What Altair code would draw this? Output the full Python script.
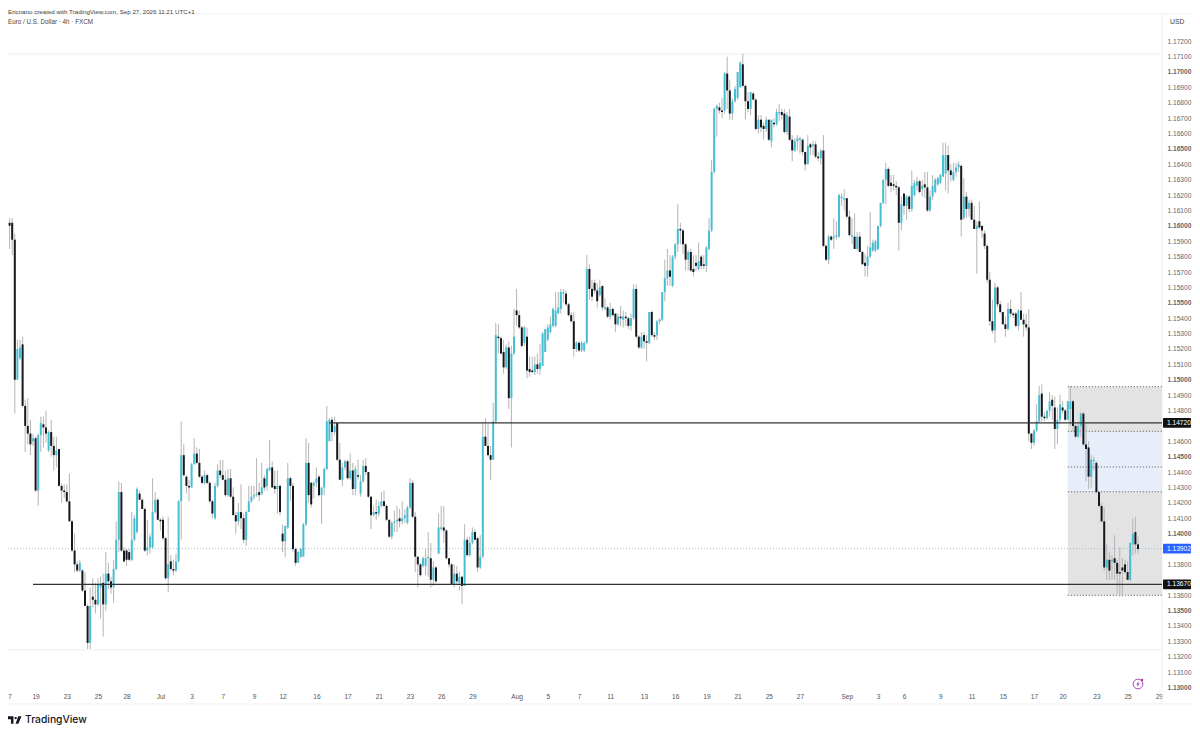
import altair as alt
import pandas as pd

# EUR/USD 4h candles, in pips above 1.0000
opens = [
    1613,1602,1602,1591,1500,1514,1523,1483,1470,1465,
    1460,1462,1428,1464,1471,1469,1454,1466,1457,1451,
    1455,1431,1428,1427,1421,1408,1389,1380,1376,1376,
    1363,1353,1329,1359,1357,1354,1365,1368,1354,1374,
    1369,1365,1377,1396,1427,1389,1389,1388,1383,1396,
    1401,1426,1422,1416,1389,1391,1391,1414,1422,1409,
    1409,1397,1371,1382,1377,1376,1382,1421,1451,1437,
    1431,1430,1445,1452,1446,1437,1433,1438,1433,1421,
    1410,1431,1441,1438,1435,1425,1436,1424,1412,1408,
    1414,1410,1396,1414,1421,1424,1425,1427,1426,1436,
    1431,1441,1443,1431,1429,1431,1400,1395,1404,1436,
    1431,1390,1381,1385,1385,1406,1446,1433,1431,1433,
    1437,1425,1430,1442,1460,1474,1466,1472,1448,1435,
    1443,1447,1436,1441,1429,1438,1426,1434,1444,1440,
    1424,1412,1414,1413,1418,1421,1418,1409,1398,1407,
    1408,1410,1408,1410,1407,1417,1433,1411,1385,1380,
    1379,1379,1384,1384,1370,1378,1387,1403,1404,1402,
    1384,1380,1367,1374,1368,1372,1366,1396,1386,1394,
    1401,1397,1378,1385,1463,1457,1451,1448,1473,1528,
    1527,1518,1508,1521,1488,1517,1545,1542,1534,1524,
    1528,1507,1506,1505,1510,1507,1509,1518,1526,1531,
    1535,1535,1543,1546,1556,1556,1549,1542,1538,1520,
    1524,1519,1519,1524,1572,1559,1563,1558,1555,1561,
    1546,1547,1541,1546,1543,1536,1541,1539,1541,1540,
    1535,1540,1559,1528,1521,1529,1525,1524,1544,1529,
    1529,1538,1539,1557,1566,1571,1561,1580,1588,1598,
    1597,1588,1578,1583,1572,1576,1572,1580,1575,1574,
    1585,1597,1635,1676,1677,1675,1675,1699,1688,1673,
    1681,1683,1690,1705,1691,1681,1676,1686,1682,1663,
    1669,1665,1663,1669,1655,1667,1666,1673,1674,1673,
    1661,1671,1656,1649,1655,1656,1656,1648,1640,1653,
    1652,1653,1645,1644,1649,1587,1578,1593,1592,1593,
    1593,1618,1617,1618,1606,1593,1593,1585,1593,1583,
    1576,1574,1580,1584,1584,1585,1600,1615,1630,1637,
    1628,1627,1626,1625,1602,1621,1613,1619,1611,1620,
    1626,1629,1624,1627,1625,1610,1619,1622,1627,1628,
    1632,1634,1646,1636,1630,1635,1638,1639,1605,1619,
    1611,1615,1604,1598,1603,1600,1595,1587,1565,1538,
    1532,1560,1549,1544,1536,1533,1546,1543,1543,1535,
    1545,1539,1536,1534,1465,1459,1467,1473,1491,1476,
    1475,1480,1487,1482,1468,1474,1482,1480,1474,1481,
    1486,1470,1463,1470,1478,1458,1456,1437,1447,1446,
    1427,1418,1408,1378,1383,1382,1384,1381,1375,1378,
    1380,1375,1370,1393,1401,1393,
]
closes = [
    1602,1600,1591,1500,1520,1521,1483,1470,1465,1458,
    1462,1428,1464,1472,1469,1465,1466,1457,1451,1454,
    1431,1428,1427,1421,1408,1389,1380,1376,1381,1363,
    1353,1329,1353,1357,1354,1367,1368,1354,1374,1369,
    1365,1377,1396,1427,1389,1382,1383,1383,1396,1410,
    1429,1422,1416,1389,1391,1398,1414,1422,1409,1408,
    1397,1371,1380,1377,1376,1382,1421,1451,1438,1431,
    1430,1445,1452,1446,1437,1433,1438,1433,1421,1413,
    1431,1441,1438,1435,1425,1436,1424,1412,1408,1414,
    1410,1396,1414,1421,1424,1425,1426,1425,1430,1430,
    1442,1443,1430,1429,1431,1414,1395,1405,1436,1431,
    1390,1381,1388,1390,1406,1446,1425,1419,1433,1436,
    1425,1430,1442,1473,1474,1466,1470,1448,1435,1443,
    1447,1436,1441,1429,1442,1437,1434,1444,1440,1424,
    1412,1414,1413,1418,1421,1418,1409,1398,1407,1408,
    1409,1408,1410,1412,1417,1433,1411,1385,1380,1373,
    1384,1384,1385,1370,1378,1369,1404,1404,1402,1384,
    1380,1367,1374,1369,1372,1366,1396,1386,1394,1401,
    1396,1378,1385,1463,1457,1451,1448,1473,1529,1527,
    1517,1508,1521,1488,1517,1528,1542,1534,1522,1534,
    1506,1505,1505,1510,1507,1511,1530,1533,1534,1536,
    1546,1545,1547,1557,1557,1549,1542,1538,1520,1524,
    1519,1524,1524,1572,1559,1554,1558,1551,1560,1547,
    1547,1541,1546,1542,1536,1541,1540,1541,1540,1535,
    1540,1559,1528,1521,1528,1525,1524,1544,1529,1528,
    1538,1539,1557,1566,1571,1567,1580,1588,1598,1597,
    1588,1578,1583,1571,1570,1574,1577,1574,1574,1586,
    1597,1635,1676,1678,1675,1674,1699,1688,1673,1681,
    1689,1700,1706,1691,1681,1676,1687,1682,1663,1669,
    1664,1663,1669,1656,1669,1666,1674,1674,1672,1661,
    1672,1656,1649,1655,1657,1657,1648,1640,1652,1651,
    1653,1645,1644,1649,1587,1578,1593,1591,1593,1594,
    1620,1619,1618,1606,1594,1594,1585,1593,1583,1575,
    1574,1580,1586,1589,1590,1600,1615,1630,1637,1626,
    1626,1626,1625,1602,1614,1613,1619,1611,1626,1628,
    1629,1622,1626,1625,1610,1619,1626,1630,1631,1633,
    1646,1646,1636,1633,1635,1638,1640,1604,1619,1611,
    1615,1604,1598,1600,1599,1597,1587,1565,1538,1532,
    1560,1549,1544,1536,1533,1546,1543,1542,1535,1545,
    1539,1536,1534,1465,1459,1467,1473,1490,1476,1475,
    1480,1486,1483,1468,1474,1484,1480,1474,1486,1486,
    1470,1463,1470,1478,1458,1455,1437,1448,1448,1427,
    1418,1408,1378,1383,1376,1383,1381,1374,1374,1376,
    1375,1370,1394,1400,1393,1390,
]
highs = [
    1615,1605,1605,1595,1526,1526,1528,1487,1488,1474,
    1465,1463,1465,1476,1476,1480,1467,1474,1463,1463,
    1455,1433,1432,1432,1439,1409,1400,1382,1383,1377,
    1375,1354,1365,1371,1368,1371,1372,1374,1388,1381,
    1372,1383,1408,1434,1433,1391,1390,1390,1414,1412,
    1430,1428,1423,1417,1409,1400,1436,1427,1423,1410,
    1411,1398,1411,1386,1383,1387,1422,1473,1458,1438,
    1435,1446,1462,1456,1455,1438,1441,1439,1434,1422,
    1433,1445,1448,1448,1441,1442,1442,1430,1414,1420,
    1432,1413,1415,1431,1431,1431,1449,1433,1446,1438,
    1443,1461,1447,1441,1441,1432,1406,1405,1446,1437,
    1433,1391,1389,1391,1407,1462,1459,1434,1434,1443,
    1438,1430,1443,1483,1475,1476,1476,1472,1459,1446,
    1448,1448,1452,1446,1444,1448,1438,1448,1449,1440,
    1424,1418,1422,1421,1427,1428,1419,1409,1408,1415,
    1418,1416,1421,1416,1418,1436,1435,1414,1385,1381,
    1385,1390,1401,1394,1382,1379,1413,1418,1418,1403,
    1384,1381,1380,1379,1375,1372,1406,1398,1398,1404,
    1403,1398,1399,1472,1475,1471,1457,1485,1537,1536,
    1528,1526,1523,1525,1522,1546,1559,1545,1535,1535,
    1534,1515,1515,1515,1517,1523,1531,1533,1536,1541,
    1547,1557,1557,1559,1559,1558,1550,1544,1544,1525,
    1525,1525,1525,1581,1575,1565,1565,1563,1565,1561,
    1553,1548,1550,1547,1543,1543,1548,1545,1544,1541,
    1543,1562,1562,1529,1531,1531,1529,1544,1545,1531,
    1539,1540,1557,1578,1585,1581,1581,1589,1614,1602,
    1598,1589,1584,1585,1581,1581,1589,1581,1581,1587,
    1605,1643,1677,1679,1680,1683,1700,1710,1695,1683,
    1691,1700,1707,1712,1692,1687,1687,1687,1683,1672,
    1672,1667,1671,1669,1669,1670,1676,1679,1676,1676,
    1674,1676,1659,1657,1659,1658,1657,1648,1659,1654,
    1655,1655,1648,1650,1659,1588,1594,1594,1605,1603,
    1621,1621,1624,1618,1610,1605,1608,1596,1596,1584,
    1582,1587,1609,1591,1591,1600,1615,1630,1641,1638,
    1633,1633,1629,1626,1619,1621,1620,1620,1636,1630,
    1632,1630,1630,1635,1635,1623,1633,1631,1632,1634,
    1654,1654,1652,1640,1641,1641,1642,1640,1631,1622,
    1617,1617,1613,1603,1616,1600,1597,1588,1570,1552,
    1563,1561,1551,1544,1541,1550,1552,1544,1544,1546,
    1557,1543,1543,1546,1465,1468,1484,1496,1497,1479,
    1480,1492,1490,1489,1482,1490,1486,1481,1486,1496,
    1487,1471,1472,1479,1479,1471,1460,1451,1450,1447,
    1427,1420,1417,1393,1388,1386,1399,1383,1391,1384,
    1383,1382,1394,1410,1411,1398,
]
lows = [
    1598,1585,1581,1478,1500,1513,1482,1453,1458,1451,
    1457,1427,1418,1453,1456,1459,1453,1450,1441,1443,
    1431,1420,1423,1420,1408,1388,1375,1375,1375,1362,
    1353,1325,1325,1352,1348,1353,1345,1333,1350,1364,
    1361,1355,1376,1388,1388,1381,1379,1382,1382,1395,
    1400,1422,1416,1388,1386,1387,1390,1413,1409,1402,
    1396,1370,1362,1376,1373,1375,1381,1396,1437,1426,
    1421,1430,1445,1445,1436,1432,1432,1432,1420,1410,
    1409,1430,1436,1435,1424,1424,1423,1412,1400,1405,
    1403,1394,1392,1414,1420,1422,1424,1421,1425,1428,
    1428,1441,1430,1426,1413,1412,1388,1385,1403,1421,
    1388,1379,1381,1384,1385,1405,1420,1417,1423,1430,
    1424,1406,1425,1441,1460,1460,1464,1447,1435,1431,
    1441,1435,1435,1425,1425,1435,1424,1433,1438,1423,
    1403,1411,1409,1411,1417,1417,1408,1397,1396,1401,
    1401,1404,1406,1407,1406,1416,1410,1375,1365,1372,
    1378,1373,1372,1365,1366,1368,1387,1402,1394,1383,
    1378,1367,1365,1367,1363,1354,1366,1385,1385,1393,
    1396,1375,1377,1384,1457,1450,1435,1448,1472,1517,
    1517,1504,1507,1481,1456,1516,1535,1533,1521,1522,
    1501,1502,1504,1503,1504,1503,1509,1518,1525,1530,
    1534,1534,1543,1543,1550,1548,1541,1537,1515,1518,
    1518,1518,1518,1523,1552,1551,1556,1547,1554,1545,
    1545,1540,1539,1541,1531,1535,1535,1534,1535,1533,
    1532,1539,1527,1520,1520,1520,1512,1523,1528,1526,
    1526,1536,1538,1551,1561,1561,1560,1578,1583,1588,
    1582,1571,1571,1570,1567,1571,1571,1572,1572,1570,
    1584,1596,1634,1658,1673,1670,1673,1676,1669,1669,
    1680,1682,1690,1690,1669,1674,1672,1682,1662,1660,
    1661,1656,1661,1655,1651,1664,1665,1668,1669,1660,
    1659,1655,1642,1648,1649,1647,1646,1636,1640,1646,
    1646,1644,1642,1640,1586,1577,1575,1590,1585,1591,
    1592,1613,1610,1605,1593,1588,1585,1584,1583,1575,
    1567,1567,1579,1583,1583,1584,1599,1614,1614,1625,
    1622,1623,1620,1584,1597,1607,1604,1609,1609,1619,
    1623,1621,1619,1618,1609,1609,1617,1621,1626,1627,
    1632,1623,1621,1629,1629,1632,1635,1593,1604,1605,
    1606,1604,1598,1569,1598,1592,1585,1563,1535,1530,
    1524,1547,1543,1536,1528,1532,1541,1540,1534,1532,
    1539,1528,1532,1460,1455,1457,1466,1472,1473,1473,
    1474,1476,1474,1455,1458,1472,1478,1473,1474,1470,
    1466,1462,1462,1463,1457,1434,1429,1430,1441,1426,
    1417,1407,1376,1370,1370,1370,1370,1361,1359,1359,
    1374,1370,1369,1386,1387,1387,
]

# date ticks: candle number and its label
tick_pos = [1, 11, 23, 35, 46, 59, 71, 83, 95, 106, 119, 131, 143, 155, 167, 179,
            196, 208, 220, 232, 245, 257, 269, 281, 293, 305, 323, 335, 345, 359,
            371, 383, 395, 406, 419, 431, 443]
tick_txt = ['7', '19', '23', '25', '28', 'Jul', '3', '7', '9', '12', '16', '17', '21', '23', '26', '29',
            'Aug', '5', '7', '11', '13', '16', '19', '21', '25', '27', 'Sep', '3', '6', '9',
            '11', '15', '17', '20', '23', '25', '29']
# the price tags cover 1.137, 1.139 and 1.147
price_ticks = [round(1.13 + k * 0.001, 3) for k in range(43) if k not in (7, 9, 17)]

# drawn levels and boxes
level_prices = [1.1472, 1.1367]
level_starts = [124, 10]
last_price = 1.13902
zone_lows = [1.13599, 1.14272]
zone_highs = [1.14955, 1.14665]
zone_colors = ['#e3e3e3', '#e7edf9']
dotted_prices = [1.14955, 1.14665, 1.14433, 1.14272, 1.13599]
zone_start, zone_end = 408, 444.23
tag_prices = [1.1472, 1.1367, 1.13902]
tag_texts = ['1.14720', '1.13670', '1.13902']
tag_colors = ['#111111', '#111111', '#2962ff']
inner_lines = [1.17117, 1.13244]
outer_lines = [1.17377, 1.12893]

FONT = 'Liberation Sans'
TEAL = '#45bfd3'
DARK = '#15181f'

candles = pd.DataFrame({'i': range(len(opens)), 'open': opens, 'close': closes,
                        'high': highs, 'low': lows})
for c in ['open', 'close', 'high', 'low']:
    candles[c] = 1 + candles[c] / 10000
candles['color'] = [TEAL if c >= o else DARK for o, c in zip(candles['open'], candles['close'])]

# bars get some padding on a continuous scale unless it is switched off
xscale = alt.Scale(domain=[0.385, 444.23], nice=False, zero=False, padding=0)
yscale = alt.Scale(domain=[1.129837, 1.174159], nice=False, zero=False, padding=0)

label_lookup = "[" + ",".join("'%s'" % t for t in tick_txt) + "][indexof(%s, datum.value)]" % str(tick_pos)
month_test = "indexof(['Jul','Aug','Sep'], datum.label) >= 0"

xaxis = alt.Axis(values=tick_pos, labelExpr=label_lookup, title=None, grid=False, domain=False,
                 ticks=False, labelFont=FONT, labelFontSize=6.6, labelColor='#555555',
                 labelPadding=3, labelOverlap=False, labelFlush=False,
                 labelFontWeight={'condition': {'test': month_test, 'value': 'bold'}, 'value': 'normal'})
yaxis = alt.Axis(orient='right', values=price_ticks, format='.5f', title=None, grid=False, domain=False,
                 ticks=False, labelFont=FONT, labelFontSize=6.6, labelColor='#666666',
                 labelPadding=5, labelOverlap=False,
                 labelFontWeight={'condition': {'test': 'round(datum.value * 1000) % 5 == 0', 'value': 'bold'},
                                  'value': 'normal'})


def X(field):
    return alt.X(field, type='quantitative', scale=xscale, axis=xaxis)


def Y(field):
    return alt.Y(field, type='quantitative', scale=yscale, axis=yaxis)


inner = alt.Chart(pd.DataFrame({'p': inner_lines})).mark_rule(color='#eeeeee', strokeWidth=1).encode(
    y=Y('p'), x=alt.value(0), x2=alt.value(1154))
outer = alt.Chart(pd.DataFrame({'p': outer_lines})).mark_rule(color='#f0f0f0', strokeWidth=1).encode(
    y=Y('p'), x=alt.value(0), x2=alt.value(1184))
frame_v = alt.Chart(pd.DataFrame({'a': [0]})).mark_rule(color='#eeeeee', strokeWidth=1).encode(
    x=alt.value(1154), y=alt.value(6), y2=alt.value(696))

zones = alt.Chart(pd.DataFrame({'a': zone_start, 'b': zone_end, 'lo': zone_lows, 'hi': zone_highs,
                                'c': zone_colors})).mark_rect().encode(
    x=X('a'), x2='b', y=Y('lo'), y2='hi', color=alt.Color('c:N', scale=None))
dotted = alt.Chart(pd.DataFrame({'p': dotted_prices, 'a': zone_start, 'b': zone_end})).mark_rule(
    color='#555555', strokeWidth=1, strokeDash=[1, 2]).encode(x=X('a'), x2='b', y=Y('p'))
last_line = alt.Chart(pd.DataFrame({'p': [last_price]})).mark_rule(
    color='#9fc0d6', strokeWidth=1, strokeDash=[1, 2]).encode(
    y=Y('p'), x=alt.value(0), x2=alt.value(1154))

wicks = alt.Chart(candles).mark_rule(color='#b4b4b4', strokeWidth=1).encode(
    x=X('i'), y=Y('low'), y2='high')
bodies = alt.Chart(candles).mark_bar(size=2).encode(
    x=X('i'), y=Y('open'), y2='close', color=alt.Color('color:N', scale=None))

levels = alt.Chart(pd.DataFrame({'p': level_prices, 'a': level_starts, 'b': zone_end})).mark_rule(
    color='#333333', strokeWidth=1.2).encode(x=X('a'), x2='b', y=Y('p'))

tags = pd.DataFrame({'p': tag_prices, 'lo': [p - 0.00032 for p in tag_prices],
                     'hi': [p + 0.00032 for p in tag_prices], 't': tag_texts, 'c': tag_colors})
tag_boxes = alt.Chart(tags).mark_rect(cornerRadius=1).encode(
    x=alt.value(1155), x2=alt.value(1183), y=Y('lo'), y2='hi', color=alt.Color('c:N', scale=None))
tag_labels = alt.Chart(tags).mark_text(font=FONT, fontSize=6.6, color='white', align='left').encode(
    x=alt.value(1159), y=Y('p'), text='t:N')


def note(text, x, y, size=6.2, color='#444444', weight='normal', font=FONT):
    return alt.Chart(pd.DataFrame({'t': [text]})).mark_text(
        font=font, fontSize=size, color=color, fontWeight=weight, align='left', baseline='middle').encode(
        x=alt.value(x), y=alt.value(y), text='t:N')


created = note('Ericnano created with TradingView.com, Sep 27, 2026 11:21 UTC+1', 0, 3.5)
symbol = note('Euro / U.S. Dollar · 4h · FXCM', 0, 13.5, size=6.3)
usd = note('USD', 1162, 14, size=6.8)
brand = note('TradingView', 17, 712, size=10.3, color='#131722', weight=500, font='Inter')

logo_path = ('M-1,-0.55 H-0.15 V0.55 H-0.5 V-0.1 H-1 Z '
             'M0,-0.27 a0.17,0.17 0 1 0 0.34,0 a0.17,0.17 0 1 0 -0.34,0 Z '
             'M0.55,-0.55 H1 L0.55,0.55 H0.15 Z')
logo = alt.Chart(pd.DataFrame({'a': [0]})).mark_point(
    shape=logo_path, size=196, filled=True, color='#131722', opacity=1).encode(
    x=alt.value(6.5), y=alt.value(712))

ring = alt.Chart(pd.DataFrame({'a': [0]})).mark_point(
    shape='circle', size=95, filled=False, color='#9c4fb8', strokeWidth=1, opacity=1).encode(
    x=alt.value(1130), y=alt.value(676))
bolt = alt.Chart(pd.DataFrame({'a': [0]})).mark_point(
    shape='M0.2,-1 L-0.6,0.15 H-0.05 L-0.25,1 L0.6,-0.2 H0.05 Z', size=36, filled=True,
    color='#9c4fb8', opacity=1).encode(x=alt.value(1130), y=alt.value(676))
spark = alt.Chart(pd.DataFrame({'a': [0]})).mark_point(
    shape='circle', size=7, filled=True, color='#d6337a', opacity=1).encode(
    x=alt.value(1134), y=alt.value(672))

chart = alt.layer(
    inner, outer, frame_v, zones, dotted, last_line, wicks, bodies, levels,
    tag_boxes, tag_labels, created, symbol, usd, logo, brand, ring, bolt, spark
).properties(
    width=1154, height=682,
    padding={'left': 0, 'top': 0, 'right': 30, 'bottom': 37},
    autosize=alt.AutoSizeParams(type='none'),
    background='white'
).configure_view(stroke=None)

chart.save("out.html", embed_options={"renderer": "svg", "actions": False})
